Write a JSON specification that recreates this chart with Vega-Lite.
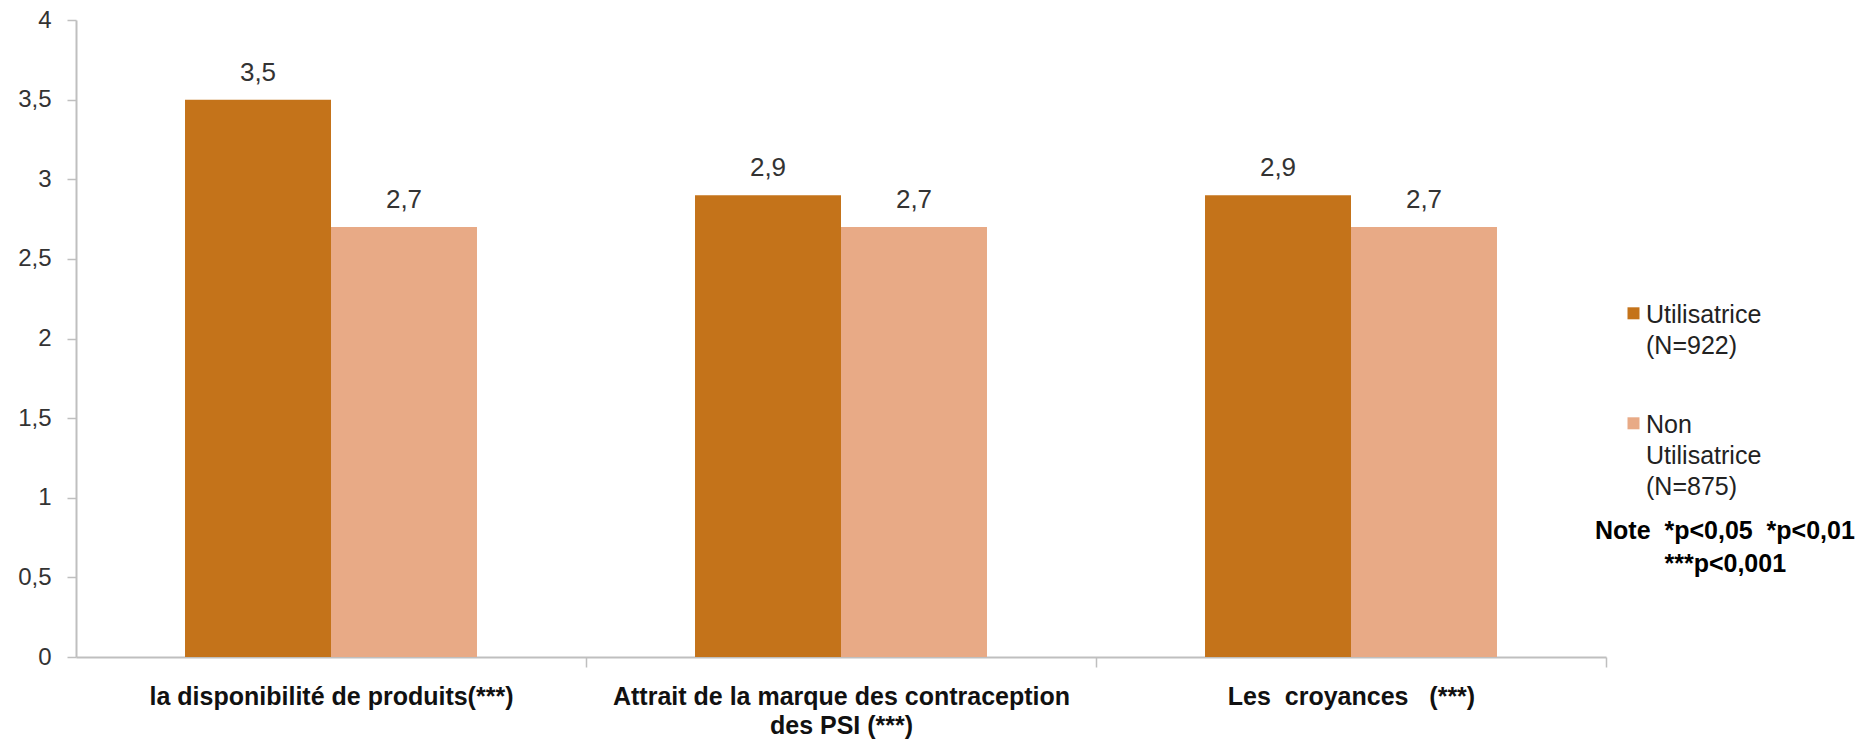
{
  "$schema": "https://vega.github.io/schema/vega-lite/v6.json",
  "width": 1530,
  "height": 637,
  "autosize": {"type": "none"},
  "padding": {"left": 76, "top": 20, "right": 268, "bottom": 85},
  "background": "white",
  "config": {
    "view": {"stroke": null},
    "font": "Liberation Sans",
    "locale": {"number": {"decimal": ",", "thousands": " ", "grouping": [3], "currency": ["", " €"]}},
    "style": {"guide-label": {"lineHeight": 31}}
  },
  "data": {
    "values": [
      {"categorie": "la disponibilité de produits(***)", "groupe": "Utilisatrice", "valeur": 3.5},
      {"categorie": "la disponibilité de produits(***)", "groupe": "Non Utilisatrice", "valeur": 2.7},
      {"categorie": "Attrait de la marque des contraception des PSI (***)", "groupe": "Utilisatrice", "valeur": 2.9},
      {"categorie": "Attrait de la marque des contraception des PSI (***)", "groupe": "Non Utilisatrice", "valeur": 2.7},
      {"categorie": "Les  croyances   (***)", "groupe": "Utilisatrice", "valeur": 2.9},
      {"categorie": "Les  croyances   (***)", "groupe": "Non Utilisatrice", "valeur": 2.7}
    ]
  },
  "encoding": {
    "x": {
      "field": "categorie",
      "type": "nominal",
      "sort": null,
      "scale": {"paddingInner": 0.4275, "paddingOuter": 0.21375},
      "axis": {
        "title": null,
        "labelAngle": 0,
        "labelFontSize": 25,
        "labelFontWeight": "bold",
        "labelColor": "#111111",
        "labelPadding": 17,
        "labelLimit": 600,
        "labelLineHeight": 29,
        "tickOffset": 255,
        "labelOffset": -255,
        "tickSize": 10,
        "tickColor": "#BFBFBF",
        "tickWidth": 1.5,
        "domainColor": "#BFBFBF",
        "domainWidth": 2,
        "labelExpr": "datum.value == 'Attrait de la marque des contraception des PSI (***)' ? ['Attrait de la marque des contraception', 'des PSI (***)'] : (datum.value == 'Les  croyances   (***)' ? 'Les\u00a0\u00a0croyances\u00a0\u00a0\u00a0(***)' : datum.label)"
      }
    },
    "xOffset": {"field": "groupe", "type": "nominal", "sort": ["Utilisatrice", "Non Utilisatrice"], "scale": {"paddingInner": 0, "paddingOuter": 0}},
    "y": {
      "field": "valeur",
      "type": "quantitative",
      "scale": {"domain": [0, 4], "nice": false},
      "axis": {
        "title": null,
        "grid": false,
        "values": [0, 0.5, 1, 1.5, 2, 2.5, 3, 3.5, 4],
        "format": ".1~f",
        "labelFontSize": 24,
        "labelColor": "#333333",
        "labelPadding": 16,
        "tickSize": 9,
        "tickColor": "#BFBFBF",
        "tickWidth": 1.5,
        "domainColor": "#BFBFBF",
        "domainWidth": 2
      }
    }
  },
  "layer": [
    {
      "mark": {"type": "bar"},
      "encoding": {
        "color": {
          "field": "groupe",
          "type": "nominal",
          "sort": ["Utilisatrice", "Non Utilisatrice"],
          "scale": {"domain": ["Utilisatrice", "Non Utilisatrice"], "range": ["#C4731A", "#E8AA86"]},
          "legend": {
            "orient": "none",
            "legendX": 1519,
            "legendY": 270,
            "title": ["Note\u00a0\u00a0*p<0,05\u00a0\u00a0*p<0,01", "\u200b\u00a0\u00a0\u00a0\u00a0\u00a0\u00a0\u00a0\u00a0\u00a0\u00a0***p<0,001"],
            "titleOrient": "bottom",
            "titleAlign": "left",
            "titleAnchor": "start",
            "titleFontSize": 25,
            "titleFontWeight": "bold",
            "titleColor": "#000000",
            "titleLineHeight": 33,
            "titlePadding": 19,
            "titleLimit": 400,
            "symbolType": "M-1,0.8H1V2.8H-1Z",
            "symbolSize": 144,
            "symbolStrokeWidth": 0,
            "symbolOffset": 26,
            "labelFontSize": 25,
            "labelColor": "#222222",
            "labelBaseline": "top",
            "labelOffset": 0,
            "labelLimit": 300,
            "rowPadding": 41,
            "labelExpr": "datum.value == 'Utilisatrice' ? ['Utilisatrice', '(N=922)'] : ['Non', 'Utilisatrice', '(N=875)']"
          }
        }
      }
    },
    {
      "mark": {"type": "text", "baseline": "bottom", "dy": -14, "fontSize": 26, "color": "#333333"},
      "encoding": {
        "text": {"field": "valeur", "type": "quantitative", "format": ".1f"}
      }
    }
  ]
}
